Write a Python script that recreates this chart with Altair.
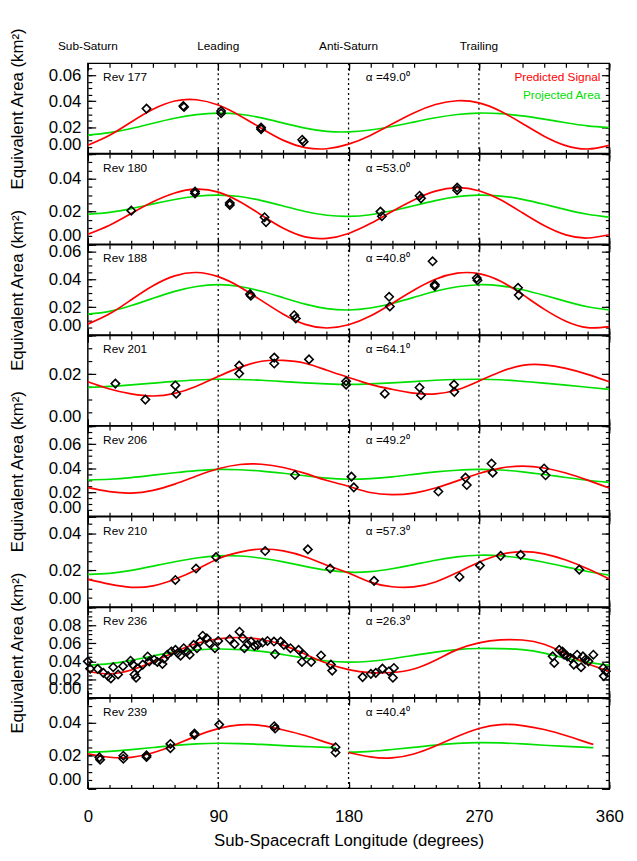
import altair as alt
import pandas as pd

# ---------------- data ----------------
LON = [0, 15, 30, 45, 60, 75, 90, 105, 120, 135, 150, 165, 180,
       195, 210, 225, 240, 255, 270, 285, 300, 315, 330, 345, 360]

REV = ["Rev 177", "Rev 180", "Rev 188", "Rev 201", "Rev 206", "Rev 210", "Rev 236", "Rev 239"]
ALPHA = ["49.0", "53.0", "40.8", "64.1", "49.2", "57.3", "26.3", "40.4"]
YTOP = [0.069, 0.055, 0.065, 0.035, 0.075, 0.049, 0.0995, 0.055]

RED = [
    [0.0064, 0.0140, 0.0242, 0.0339, 0.0402, 0.0412, 0.0371, 0.0290, 0.0192, 0.0101, 0.0046, 0.0037, 0.0072,
     0.0139, 0.0226, 0.0311, 0.0375, 0.0404, 0.0388, 0.0324, 0.0230, 0.0133, 0.0061, 0.0035, 0.0063],
    [0.0061, 0.0116, 0.0188, 0.0259, 0.0313, 0.0336, 0.0318, 0.0259, 0.0177, 0.0097, 0.0045, 0.0036, 0.0066,
     0.0126, 0.0200, 0.0270, 0.0324, 0.0345, 0.0326, 0.0271, 0.0192, 0.0114, 0.0057, 0.0038, 0.0058],
    [0.0078, 0.0152, 0.0254, 0.0355, 0.0426, 0.0450, 0.0420, 0.0346, 0.0247, 0.0149, 0.0076, 0.0050, 0.0073,
     0.0136, 0.0227, 0.0322, 0.0401, 0.0445, 0.0442, 0.0387, 0.0292, 0.0186, 0.0099, 0.0053, 0.0060],
    [0.0170, 0.0142, 0.0123, 0.0115, 0.0125, 0.0153, 0.0191, 0.0226, 0.0250, 0.0253, 0.0242, 0.0215, 0.0187,
     0.0160, 0.0141, 0.0126, 0.0123, 0.0139, 0.0173, 0.0209, 0.0234, 0.0236, 0.0222, 0.0199, 0.0170],
    [0.0238, 0.0205, 0.0193, 0.0216, 0.0268, 0.0335, 0.0395, 0.0431, 0.0433, 0.0406, 0.0357, 0.0298, 0.0250,
     0.0198, 0.0180, 0.0193, 0.0235, 0.0295, 0.0356, 0.0401, 0.0418, 0.0402, 0.0360, 0.0301, 0.0235],
    [0.0150, 0.0124, 0.0107, 0.0115, 0.0151, 0.0203, 0.0262, 0.0298, 0.0315, 0.0305, 0.0273, 0.0227, 0.0185,
     0.0135, 0.0110, 0.0109, 0.0136, 0.0187, 0.0243, 0.0285, 0.0301, 0.0289, 0.0255, 0.0208, 0.0152],
    [0.0292, 0.0263, 0.0305, 0.0395, 0.0505, 0.0598, 0.0648, 0.0664, 0.0642, 0.0580, 0.0480, 0.0380, 0.0310,
     0.0276, 0.0278, 0.0317, 0.0413, 0.0530, 0.0605, 0.0638, 0.0636, 0.0590, 0.0485, 0.0375, 0.0292],
]
GREEN = [
    [0.0141, 0.0160, 0.0192, 0.0232, 0.0270, 0.0298, 0.0310, 0.0301, 0.0273, 0.0233, 0.0195, 0.0170, 0.0166,
     0.0180, 0.0207, 0.0241, 0.0274, 0.0299, 0.0310, 0.0305, 0.0288, 0.0263, 0.0236, 0.0212, 0.0198],
    [0.0183, 0.0194, 0.0217, 0.0246, 0.0273, 0.0293, 0.0300, 0.0291, 0.0266, 0.0233, 0.0200, 0.0177, 0.0170,
     0.0180, 0.0204, 0.0235, 0.0266, 0.0290, 0.0300, 0.0294, 0.0274, 0.0244, 0.0211, 0.0183, 0.0165],
    [0.0150, 0.0170, 0.0212, 0.0264, 0.0314, 0.0349, 0.0362, 0.0349, 0.0315, 0.0268, 0.0222, 0.0190, 0.0180,
     0.0194, 0.0227, 0.0271, 0.0315, 0.0347, 0.0362, 0.0354, 0.0326, 0.0286, 0.0242, 0.0203, 0.0180],
    [0.0148, 0.0152, 0.0158, 0.0165, 0.0172, 0.0177, 0.0180, 0.0179, 0.0176, 0.0171, 0.0166, 0.0162, 0.0160,
     0.0162, 0.0166, 0.0171, 0.0176, 0.0179, 0.0180, 0.0178, 0.0172, 0.0165, 0.0157, 0.0149, 0.0141],
    [0.0302, 0.0308, 0.0322, 0.0342, 0.0362, 0.0380, 0.0390, 0.0387, 0.0376, 0.0358, 0.0337, 0.0317, 0.0308,
     0.0313, 0.0328, 0.0349, 0.0369, 0.0383, 0.0390, 0.0385, 0.0370, 0.0348, 0.0323, 0.0300, 0.0282],
    [0.0177, 0.0183, 0.0199, 0.0222, 0.0246, 0.0266, 0.0278, 0.0277, 0.0265, 0.0245, 0.0221, 0.0200, 0.0189,
     0.0192, 0.0208, 0.0230, 0.0254, 0.0272, 0.0281, 0.0278, 0.0264, 0.0243, 0.0218, 0.0193, 0.0173],
    [0.0356, 0.0375, 0.0412, 0.0460, 0.0505, 0.0528, 0.0537, 0.0530, 0.0510, 0.0475, 0.0437, 0.0405, 0.0392,
     0.0402, 0.0430, 0.0467, 0.0503, 0.0531, 0.0543, 0.0541, 0.0530, 0.0492, 0.0435, 0.0390, 0.0358],
]

# Rev 239: curves drawn in two pieces
LON8_A = [0, 15, 30, 45, 60, 75, 90, 105, 120, 135, 150, 165, 171]
LON8_B = [180, 195, 210, 225, 240, 255, 270, 285, 300, 315, 330, 345, 349]
RED8_A = [0.0211, 0.0190, 0.0189, 0.0217, 0.0265, 0.0320, 0.0364, 0.0387, 0.0383, 0.0356, 0.0322, 0.0279, 0.0265]
RED8_B = [0.0219, 0.0192, 0.0186, 0.0210, 0.0259, 0.0316, 0.0365, 0.0389, 0.0383, 0.0359, 0.0322, 0.0279, 0.0269]
GREEN8_A = [0.0221, 0.0226, 0.0236, 0.0249, 0.0262, 0.0271, 0.0275, 0.0273, 0.0268, 0.0261, 0.0255, 0.0250, 0.0249]
GREEN8_B = [0.0221, 0.0226, 0.0237, 0.0250, 0.0264, 0.0274, 0.0279, 0.0277, 0.0271, 0.0263, 0.0256, 0.0250, 0.0249]

PTS_LON = [
    [40.5, 65.9, 66.4, 92.0, 92.0, 119.6, 119.6, 148.0, 149.0],
    [30, 74, 74, 98, 98, 122, 123, 202, 203, 229, 230, 255, 255],
    [112, 112.5, 142.5, 143.6, 208, 208.5, 238, 239.5, 239.5, 268.5, 269, 297, 297.5],
    [19, 39.7, 60.4, 61, 104.5, 104.5, 128.7, 128.7, 152.7, 178.3, 178.3, 205, 229, 230, 252.8, 253],
    [143, 182, 183.6, 242, 260.7, 261.6, 278.7, 279.5, 315, 316],
    [60.4, 74.7, 88.5, 122.4, 151.9, 167.3, 197.6, 256.6, 270.7, 285, 298.8, 339.3],
    [0, 1.6, 6.8, 10.7, 14, 15.9, 17.5, 20.9, 24.3, 29.5, 31, 32.2, 33.3, 34.5, 37.9, 41.3, 42.4, 45.8, 48,
     51.5, 52.6, 54.9, 57.6, 60.5, 62.1, 64, 66.2, 68.5, 70.3, 73, 75.3, 77.5, 79.3, 82.1, 83.9, 87.7, 90,
     97.9, 101.3, 104.7, 107, 108.1, 110.4, 112.7, 115, 117.2, 120.6, 124, 128.5, 129.2, 133.1, 135.3,
     139.9, 145.5, 147.8, 149, 154.2, 161, 167.8, 168.7, 189.7, 195.4, 198.8, 203.4, 207.9, 210.6, 211.3,
     320.9, 322, 325.4, 327.7, 328.8, 331, 333.3, 335.5, 337.8, 340.5, 341.8, 343.4, 345.6, 349, 355.8,
     356.2, 357.6],
    [8, 8.5, 24.5, 24.5, 40.5, 40.5, 57, 57, 73.6, 73.6, 90.7, 128.7, 129.3, 171, 171],
]
PTS_VAL = [
    [0.0344, 0.0364, 0.0356, 0.0326, 0.0308, 0.0200, 0.0187, 0.0106, 0.0091],
    [0.0205, 0.0322, 0.0310, 0.0252, 0.0240, 0.0165, 0.0135, 0.0199, 0.0171, 0.0296, 0.0280, 0.0346, 0.0330],
    [0.0294, 0.0282, 0.0142, 0.0119, 0.0275, 0.0205, 0.0531, 0.0363, 0.0352, 0.0410, 0.0394, 0.0340, 0.0287],
    [0.0163, 0.0101, 0.0156, 0.0124, 0.0233, 0.0202, 0.0264, 0.0241, 0.0257, 0.0172, 0.0159, 0.0124, 0.0148,
     0.0118, 0.0159, 0.0131],
    [0.0344, 0.0330, 0.0241, 0.0206, 0.0322, 0.0260, 0.0439, 0.0363, 0.0398, 0.0341],
    [0.0147, 0.0209, 0.0271, 0.0304, 0.0313, 0.0209, 0.0142, 0.0163, 0.0225, 0.0278, 0.0283, 0.0203],
    [0.040, 0.032, 0.0318, 0.0274, 0.0238, 0.0212, 0.0336, 0.0256, 0.0347, 0.0408, 0.0365, 0.0256, 0.022,
     0.0321, 0.0365, 0.0455, 0.0401, 0.0419, 0.0394, 0.0372, 0.043, 0.0474, 0.051, 0.0528, 0.0492, 0.0463,
     0.0546, 0.051, 0.0474, 0.0583, 0.0546, 0.0619, 0.0684, 0.0655, 0.0601, 0.0546, 0.0626, 0.0644, 0.059,
     0.0728, 0.0655, 0.0546, 0.059, 0.0619, 0.0572, 0.0583, 0.0608, 0.0626, 0.0619, 0.0481, 0.0619, 0.0583,
     0.0546, 0.0528, 0.0394, 0.0474, 0.0394, 0.0466, 0.0365, 0.0299, 0.0227, 0.0263, 0.0274, 0.0321, 0.0292,
     0.022, 0.0328, 0.0456, 0.0383, 0.0528, 0.051, 0.0474, 0.0456, 0.0437, 0.0365, 0.0474, 0.0336, 0.0456,
     0.0419, 0.0401, 0.0474, 0.0328, 0.0238, 0.0292],
    [0.0189, 0.0175, 0.0199, 0.0181, 0.0201, 0.0191, 0.0271, 0.0245, 0.0335, 0.0325, 0.0389, 0.0379, 0.0365,
     0.0251, 0.0219],
]

SIDE_LON = [0, 90, 180, 270]
SIDE_LAB = ["Sub-Saturn", "Leading", "Anti-Saturn", "Trailing"]
X_MAJOR = [0, 90, 180, 270, 360]
X_MINOR = [0, 15, 30, 45, 60, 75, 90, 105, 120, 135, 150, 165, 180,
           195, 210, 225, 240, 255, 270, 285, 300, 315, 330, 345, 360]
Y_MAJOR = [0.0, 0.02, 0.04, 0.06, 0.08]

# ---------------- styling ----------------
W = 529
H = 91.5
FONT = "Liberation Sans"
RED_C = "#ff0000"
GREEN_C = "#00e000"


def tick_axis(orient, values, size, offset):
    return alt.Axis(orient=orient, values=values, ticks=True, tickSize=size, tickWidth=1.2,
                    tickColor="black", labels=False, domain=False, grid=False, title=None,
                    offset=offset)


def panel(i):
    top = YTOP[i]
    if i < 7:
        red_df = pd.DataFrame({"lon": LON, "v": RED[i], "seg": 0})
        green_df = pd.DataFrame({"lon": LON, "v": GREEN[i], "seg": 0})
    else:
        red_df = pd.DataFrame({"lon": LON8_A + LON8_B, "v": RED8_A + RED8_B,
                               "seg": [0] * len(LON8_A) + [1] * len(LON8_B)})
        green_df = pd.DataFrame({"lon": LON8_A + LON8_B, "v": GREEN8_A + GREEN8_B,
                                 "seg": [0] * len(LON8_A) + [1] * len(LON8_B)})
    pts = pd.DataFrame({"lon": PTS_LON[i], "v": PTS_VAL[i]})

    xs = alt.Scale(domain=[0, 360], nice=False, zero=False)
    ys = alt.Scale(domain=[0, top], nice=False, zero=True)
    major = [v for v in Y_MAJOR if v <= top + 1e-9]
    minor = [round(k * 0.005, 3) for k in range(int(top / 0.005 + 1e-6) + 1)]
    last = i == 7

    ytitle = "Equivalent Area (km²)" if i % 2 == 0 else None
    y_lab_axis = alt.Axis(orient="left", values=major, format=".2f", ticks=False, domain=False,
                          labelPadding=7, labelFlush=True, labelOverlap=False, grid=False,
                          title=ytitle, titlePadding=22)
    if last:
        x_lab_axis = alt.Axis(orient="bottom", values=X_MAJOR, format="d", ticks=False, domain=False,
                              labelPadding=21, labelFlush=False, labelOverlap=False, grid=False,
                              title="Sub-Spacecraft Longitude (degrees)", titlePadding=8)
    else:
        x_lab_axis = None

    rules = alt.Chart(pd.DataFrame({"lon": [90, 180, 270]})).mark_rule(
        color="black", strokeDash=[2, 3], strokeWidth=1.3
    ).encode(x=alt.X("lon:Q", scale=xs, axis=None))

    green = alt.Chart(green_df).mark_line(color=GREEN_C, strokeWidth=1.7, interpolate="natural").encode(
        x=alt.X("lon:Q", scale=xs, axis=x_lab_axis),
        y=alt.Y("v:Q", scale=ys, axis=y_lab_axis),
        detail="seg:N",
    )
    red = alt.Chart(red_df).mark_line(color=RED_C, strokeWidth=1.7, interpolate="natural").encode(
        x=alt.X("lon:Q", scale=xs, axis=tick_axis("top", X_MAJOR, 7, -H)),
        y=alt.Y("v:Q", scale=ys, axis=tick_axis("right", major, 8, -W)),
        detail="seg:N",
    )
    points = alt.Chart(pts).mark_point(shape="diamond", filled=False, size=72, strokeWidth=1.6,
                                       color="black", opacity=1).encode(
        x=alt.X("lon:Q", scale=xs, axis=tick_axis("top", X_MINOR, 4, -H)),
        y=alt.Y("v:Q", scale=ys, axis=tick_axis("right", minor, 4, -W)),
    )
    ghost1 = alt.Chart(pts).mark_point(opacity=0).encode(
        x=alt.X("lon:Q", scale=xs, axis=tick_axis("bottom", X_MAJOR, 7, -H)),
        y=alt.Y("v:Q", scale=ys, axis=tick_axis("left", major, 8, -W)),
    )
    ghost2 = alt.Chart(pts).mark_point(opacity=0).encode(
        x=alt.X("lon:Q", scale=xs, axis=tick_axis("bottom", X_MINOR, 4, -H)),
        y=alt.Y("v:Q", scale=ys, axis=tick_axis("left", minor, 4, -W)),
    )

    rev = alt.Chart(alt.Data(values=[{"t": REV[i]}])).mark_text(
        align="left", baseline="middle", fontSize=12, font=FONT, color="black"
    ).encode(x=alt.value(15.5), y=alt.value(14), text="t:N")
    alpha = alt.Chart(alt.Data(values=[{"t": "α =" + ALPHA[i] + "⁰"}])).mark_text(
        align="left", baseline="middle", fontSize=12, font=FONT, color="black"
    ).encode(x=alt.value(282), y=alt.value(14), text="t:N")

    layers = [rules, green, red, points, ghost1, ghost2, rev, alpha]

    if i == 0:
        side = alt.Chart(pd.DataFrame({"lon": SIDE_LON, "lab": SIDE_LAB})).mark_text(
            align="center", baseline="middle", fontSize=12, font=FONT, color="black"
        ).encode(x=alt.X("lon:Q", scale=xs, axis=None), y=alt.value(-17.7), text="lab:N")
        leg1 = alt.Chart(alt.Data(values=[{"t": "Predicted Signal"}])).mark_text(
            align="right", baseline="middle", fontSize=12, font=FONT, color=RED_C
        ).encode(x=alt.value(W - 9), y=alt.value(14), text="t:N")
        leg2 = alt.Chart(alt.Data(values=[{"t": "Projected Area"}])).mark_text(
            align="right", baseline="middle", fontSize=12, font=FONT, color=GREEN_C
        ).encode(x=alt.value(W - 9), y=alt.value(32.6), text="t:N")
        layers += [side, leg1, leg2]

    return alt.layer(*layers).properties(width=W, height=H).resolve_axis(
        x="independent", y="independent")


chart = alt.vconcat(*[panel(i) for i in range(8)], spacing=0, bounds="flush").properties(
    padding={"left": 0, "top": 12, "right": 5, "bottom": 5}
).configure_view(
    stroke="black", strokeWidth=1.5
).configure_axis(
    labelFont=FONT, titleFont=FONT, labelFontSize=17, titleFontSize=17,
    labelColor="black", titleColor="black", titleFontWeight="normal", tickColor="black"
).configure_text(font=FONT)

chart.save("out.html", embed_options={"renderer": "svg", "actions": False})
